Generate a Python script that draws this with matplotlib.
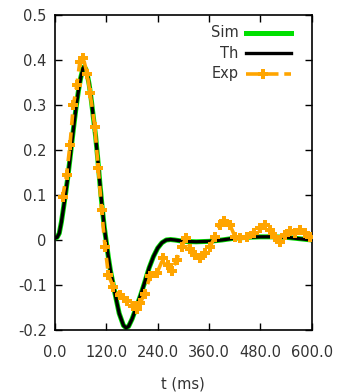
import matplotlib
matplotlib.use("Agg")
import matplotlib.pyplot as plt
from matplotlib.lines import Line2D

# ---- data ----
th_t = [0, 5, 10, 15, 20, 25, 30, 35, 40, 45, 50, 55, 60, 65, 68, 72, 76, 80, 85, 90,
        95, 100, 105, 110, 115, 120, 125, 130, 140, 150, 160, 166, 172, 180, 190, 200,
        210, 220, 230, 240, 250, 260, 270, 280, 300, 330, 360, 390, 420, 450, 480, 510,
        540, 570, 600]
th_v = [0.004, 0.006, 0.015, 0.040, 0.072, 0.105, 0.140, 0.180, 0.222, 0.262, 0.300, 0.333,
        0.360, 0.380, 0.385, 0.380, 0.365, 0.345, 0.310, 0.270, 0.230, 0.180, 0.125, 0.075,
        0.030, -0.005, -0.040, -0.070, -0.118, -0.163, -0.190, -0.195, -0.192, -0.176,
        -0.150, -0.123, -0.093, -0.062, -0.037, -0.018, -0.006, 0.000, 0.001, 0.000,
        -0.003, -0.004, -0.003, 0.000, 0.004, 0.006, 0.007, 0.007, 0.006, 0.003, 0.000]
sim_t = th_t
sim_v = th_v

exp_t = [18, 27, 35, 43, 51, 58, 66, 75, 82, 93,
         101, 109, 117, 125, 136, 152, 168, 183, 191,
         199, 210, 222, 238, 253, 265, 273, 284, 296,
         306, 316, 327, 339, 351, 362, 374, 386,
         395, 409, 421, 432, 448, 464, 479, 491,
         503, 514, 526, 538, 549, 561, 573, 584,
         596]
exp_v = [0.096, 0.144, 0.211, 0.300, 0.344, 0.396, 0.405, 0.370, 0.326, 0.252,
         0.160, 0.067, -0.015, -0.078, -0.104, -0.123, -0.135, -0.146, -0.154,
         -0.140, -0.119, -0.081, -0.074, -0.041, -0.056, -0.070, -0.044, -0.015,
         0.004, -0.019, -0.033, -0.041, -0.030, -0.015, 0.007, 0.033,
         0.042, 0.033, 0.007, 0.004, 0.006, 0.015, 0.026, 0.033,
         0.022, 0.007, -0.004, 0.011, 0.019, 0.015, 0.022, 0.015,
         0.007]

x_ticks = [0, 120, 240, 360, 480, 600]
x_labels = ["0.0", "120.0", "240.0", "360.0", "480.0", "600.0"]
y_ticks = [-0.2, -0.1, 0, 0.1, 0.2, 0.3, 0.4, 0.5]
y_labels = ["-0.2", "-0.1", "0", "0.1", "0.2", "0.3", "0.4", "0.5"]
series_names = ["Sim", "Th", "Exp"]

GREEN = "#00e000"
ORANGE = "#ffa500"
TXT = "#333333"

plt.rcParams["font.family"] = ["DejaVu Sans"]
fig = plt.figure(figsize=(3.45, 3.92), dpi=100)
ax = fig.add_axes([0.1594, 0.1582, 0.7441, 0.8035])

ax.plot(sim_t, sim_v, color=GREEN, lw=3.6, solid_capstyle="butt", zorder=2)
ax.plot(th_t, th_v, color="black", lw=2.4, zorder=3)
ax.plot(exp_t, exp_v, color=ORANGE, lw=2.6, ls=(0, (3, 2)), marker="P",
        markersize=7, markeredgewidth=0, zorder=4)

ax.set_xlim(0, 600)
ax.set_ylim(-0.2, 0.5)
ax.set_xticks(x_ticks)
ax.set_xticklabels(x_labels)
ax.set_yticks(y_ticks)
ax.set_yticklabels(y_labels)
ax.tick_params(direction="in", length=5, width=1, top=True, right=True,
               labelsize=10.5, colors="black", labelcolor=TXT)
ax.tick_params(axis="x", pad=11)
ax.tick_params(axis="y", pad=6)
for s in ax.spines.values():
    s.set_linewidth(1.2)
ax.set_xlabel("t (ms)", fontsize=10.5, color=TXT, labelpad=12)

# gnuplot-style legend: right-aligned labels, samples to the right
handles = [Line2D([], [], color=GREEN, lw=3.6),
           Line2D([], [], color="black", lw=2.4),
           Line2D([], [], color=ORANGE, lw=2.6, ls=(0, (3, 2)))]
y0 = 0.943
dy = 0.065
for i, (h, name) in enumerate(zip(handles, series_names)):
    yy = y0 - i * dy
    ax.text(0.715, yy, name, transform=ax.transAxes, ha="right", va="center",
            fontsize=10.5, color=TXT)
    ln = Line2D([0.745, 0.81, 0.92], [yy, yy, yy], transform=ax.transAxes,
                color=h.get_color(), lw=h.get_linewidth(), ls=h.get_linestyle(),
                marker="P" if i == 2 else None, markersize=7,
                markeredgewidth=0, markevery=[1] if i == 2 else None)
    ax.add_line(ln)

fig.savefig("out.png", dpi=100)
